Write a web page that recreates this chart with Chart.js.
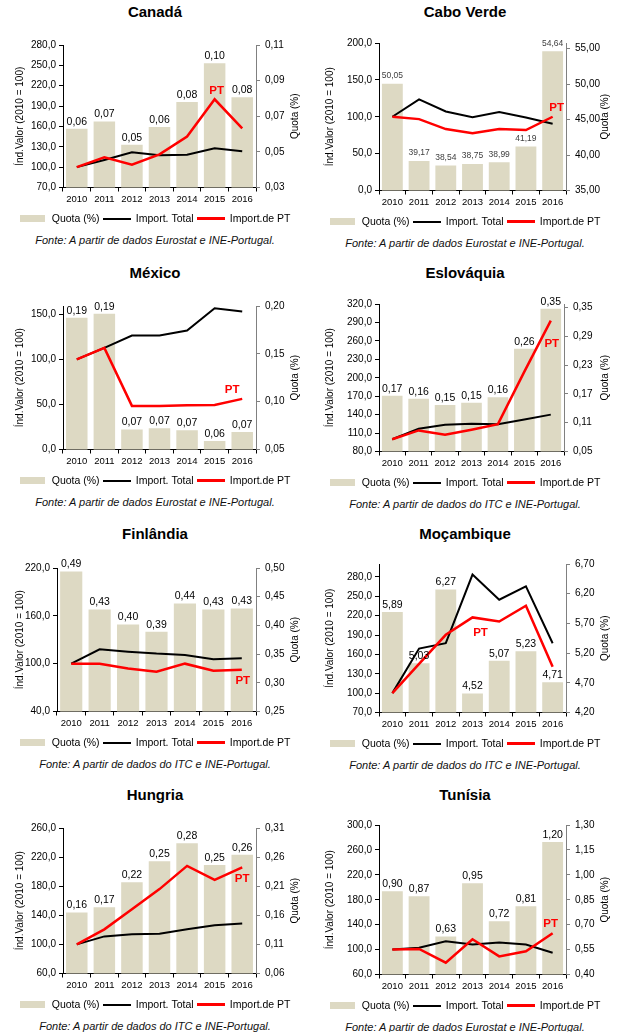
<!DOCTYPE html>
<html lang="pt">
<head>
<meta charset="utf-8">
<title>Quota e importações</title>
<script src="https://cdn.jsdelivr.net/npm/chart.js@4.4.1/dist/chart.umd.min.js"></script>
<style>
  html, body { margin: 0; padding: 0; background: #fff; overflow: hidden; }
  body { width: 621px; height: 1032px; position: relative; font-family: "Liberation Sans", Arial, sans-serif; }
  .painel { position: absolute; width: 310px; height: 261px; }
  .painel h2 { position: absolute; top: 3px; left: 0; width: 310px; margin: 0; text-align: center;
               font-size: 15px; line-height: 17px; font-weight: bold; color: #000; }
  .painel canvas { position: absolute; left: 0; top: 0; }
  .painel .fonte { position: absolute; left: 0; width: 310px; text-align: center; font-style: italic;
                   font-size: 11px; line-height: 12px; color: #111; }
</style>
</head>
<body>
<script>
var anos = ["2010", "2011", "2012", "2013", "2014", "2015", "2016"];
var paises = ["Canadá", "Cabo Verde", "México", "Eslováquia", "Finlândia", "Moçambique", "Hungria", "Tunísia"];
var fonteEurostat = "Fonte: A partir de dados Eurostat e INE-Portugal.";
var fonteITC = "Fonte: A partir de dados do ITC e INE-Portugal.";
var fontes = [fonteEurostat, fonteEurostat, fonteEurostat, fonteITC, fonteITC, fonteITC, fonteITC, fonteEurostat];

// Quota (%) = barras; Import. Total e Import.de PT = índice 2010 = 100
var quotaCanada = [0.063, 0.067, 0.054, 0.064, 0.078, 0.0997, 0.0806];
var totalCanada = [100, 110.5, 121.9, 117.4, 118.4, 127.8, 123.4];
var ptCanada = [100, 114.5, 103.6, 118.9, 145.1, 200, 157];

var quotaCaboVerde = [50.05, 39.17, 38.54, 38.75, 38.99, 41.19, 54.64];
var totalCaboVerde = [100, 123.5, 107.2, 99.5, 106.3, 99.1, 90.5];
var ptCaboVerde = [100, 96.8, 83.3, 77.8, 83.3, 81.9, 100];

var quotaMexico = [0.1877, 0.1919, 0.071, 0.0721, 0.0700, 0.0588, 0.0682];
var totalMexico = [100, 112.8, 126.5, 126.5, 132, 156.7, 153.3];
var ptMexico = [100, 112.8, 48.4, 48.4, 49.1, 49.5, 56.2];

var quotaEslovaquia = [0.166, 0.1597, 0.147, 0.1514, 0.163, 0.264, 0.347];
var totalEslovaquia = [100, 117, 123.5, 125, 124.5, 132, 140];
var ptEslovaquia = [100, 114.3, 107.2, 115.4, 124.5, 210, 293];

var quotaFinlandia = [0.494, 0.4277, 0.4015, 0.389, 0.438, 0.4277, 0.4295];
var totalFinlandia = [100, 118, 115, 112.6, 111, 105.5, 106.7];
var ptFinlandia = [100, 100, 94, 90, 100, 91.2, 92.5];

var quotaMocambique = [5.89, 5.03, 6.27, 4.52, 5.07, 5.23, 4.71];
var totalMocambique = [100, 169, 177.3, 283.6, 244.7, 265.5, 177.3];
var ptMocambique = [100, 145.2, 190.3, 217.3, 211, 235.4, 141];

var quotaHungria = [0.1648, 0.174, 0.2167, 0.253, 0.284, 0.2466, 0.264];
var totalHungria = [100, 111, 113.8, 114.7, 120.7, 126.3, 128.6];
var ptHungria = [100, 120.7, 148.4, 176, 207.9, 188.6, 206];

var quotaTunisia = [0.9016, 0.871, 0.629, 0.95, 0.72, 0.8106, 1.198];
var totalTunisia = [100, 103, 113.4, 108, 111.2, 108, 95];
var ptTunisia = [100, 101, 78.9, 116.6, 89.1, 97.2, 126.3];

var quotas = [quotaCanada, quotaCaboVerde, quotaMexico, quotaEslovaquia, quotaFinlandia, quotaMocambique, quotaHungria, quotaTunisia];
var totais = [totalCanada, totalCaboVerde, totalMexico, totalEslovaquia, totalFinlandia, totalMocambique, totalHungria, totalTunisia];
var importPT = [ptCanada, ptCaboVerde, ptMexico, ptEslovaquia, ptFinlandia, ptMocambique, ptHungria, ptTunisia];

// eixo esquerdo (índice) e eixo direito (quota)
var limEsq = [[70, 280], [0, 200], [0, 159.3], [80, 320], [40, 220], [70, 300], [60, 260], [60, 300]];
var marcasEsq = [
  [70, 100, 130, 160, 190, 220, 250, 280],
  [0, 50, 100, 150, 200],
  [0, 50, 100, 150],
  [80, 110, 140, 170, 200, 230, 260, 290, 320],
  [40, 100, 160, 220],
  [70, 100, 130, 160, 190, 220, 250, 280],
  [60, 100, 140, 180, 220, 260],
  [60, 100, 140, 180, 220, 260, 300]
];
var limDir = [[0.03, 0.11], [35, 55.8], [0.05, 0.20], [0.05, 0.357], [0.25, 0.50], [4.2, 6.7], [0.06, 0.31], [0.40, 1.30]];
var marcasDir = [
  [0.03, 0.05, 0.07, 0.09, 0.11],
  [35, 40, 45, 50, 55],
  [0.05, 0.10, 0.15, 0.20],
  [0.05, 0.11, 0.17, 0.23, 0.29, 0.35],
  [0.25, 0.30, 0.35, 0.40, 0.45, 0.50],
  [4.2, 4.7, 5.2, 5.7, 6.2, 6.7],
  [0.06, 0.11, 0.16, 0.21, 0.26, 0.31],
  [0.40, 0.55, 0.70, 0.85, 1.00, 1.15, 1.30]
];

// posição de cada gráfico na página e da área de desenho
var caixas = [
  { x: 0,   y: 0,   left: 63, right: 256, top: 45, bottom: 187, pt: [5, 2, -8] },
  { x: 310, y: 0,   left: 69, right: 256, top: 43, bottom: 190, pt: [6, 4, -9], pequeno: true },
  { x: 0,   y: 261, left: 63, right: 256, top: 45, bottom: 188, pt: [6, -10, -9] },
  { x: 310, y: 261, left: 69, right: 254, top: 43, bottom: 190, pt: [6, 1, 23] },
  { x: 0,   y: 522, left: 57, right: 256, top: 46, bottom: 189, pt: [6, 1, 11] },
  { x: 310, y: 522, left: 69, right: 256, top: 42, bottom: 190, pt: [3, 8, 15] },
  { x: 0,   y: 783, left: 63, right: 256, top: 45, bottom: 190, pt: [6, 0, 12] },
  { x: 310, y: 783, left: 69, right: 256, top: 42, bottom: 191, pt: [6, -2, -9] }
];

var corBarra = "#DDD9C3";
var fam = "'Liberation Sans', Arial, sans-serif";
Chart.defaults.font.family = fam;
Chart.defaults.color = "#000";

function amostra(w, h, cor) {
  var c = document.createElement("canvas");
  c.width = w; c.height = h;
  var g = c.getContext("2d");
  g.fillStyle = cor;
  g.fillRect(0, 0, w, h);
  return c;
}
var amostras = [amostra(25, 7, corBarra), amostra(28, 2, "#000"), amostra(28, 3, "#ff0000")];

function virgula(v, casas) {
  return v.toFixed(casas).replace(".", ",");
}

// rótulos das barras, "PT" e títulos dos eixos
var extras = {
  id: "extras",
  afterDatasetsDraw: function (chart, args, o) {
    var ctx = chart.ctx, a = chart.chartArea;
    ctx.save();
    ctx.textAlign = "center";
    ctx.textBaseline = "middle";

    ctx.font = o.pequeno ? "8.5px " + fam : "10.5px " + fam;
    ctx.fillStyle = o.pequeno ? "#404040" : "#000";
    var q = chart.data.datasets[0].data;
    chart.getDatasetMeta(0).data.forEach(function (bar, i) {
      ctx.fillText(virgula(q[i], 2), bar.x, bar.y - (o.pequeno ? 8 : 7));
    });

    var red = chart.data.datasets[2].data;
    ctx.font = "bold 11.5px " + fam;
    ctx.fillStyle = "#ff0000";
    ctx.fillText("PT", chart.scales.x.getPixelForValue(o.pt[0]) + o.pt[1],
      chart.scales.y.getPixelForValue(red[o.pt[0]]) + o.pt[2]);

    ctx.font = "10px " + fam;
    ctx.fillStyle = "#000";
    var cy = (a.top + a.bottom) / 2;
    ctx.save();
    ctx.translate(20, cy);
    ctx.rotate(-Math.PI / 2);
    ctx.fillText("Índ.Valor (2010 = 100)", 0, 0);
    ctx.restore();
    ctx.save();
    ctx.translate(295, cy);
    ctx.rotate(-Math.PI / 2);
    ctx.fillText("Quota (%)", 0, 0);
    ctx.restore();
    ctx.restore();
  }
};

caixas.forEach(function (cx, k) {
  var painel = document.createElement("div");
  painel.className = "painel";
  painel.style.left = cx.x + "px";
  painel.style.top = cx.y + "px";
  var h = cx.bottom + 47;

  var titulo = document.createElement("h2");
  titulo.textContent = paises[k];
  var canvas = document.createElement("canvas");
  canvas.width = 310;
  canvas.height = h;
  var nota = document.createElement("div");
  nota.className = "fonte";
  nota.style.top = h + "px";
  nota.textContent = fontes[k];
  painel.appendChild(titulo);
  painel.appendChild(canvas);
  painel.appendChild(nota);
  document.body.appendChild(painel);

  new Chart(canvas.getContext("2d"), {
    type: "bar",
    data: {
      labels: anos,
      datasets: [
        {
          label: "Quota (%)",
          data: quotas[k],
          backgroundColor: corBarra,
          yAxisID: "y1",
          barPercentage: 0.78,
          categoryPercentage: 1,
          order: 3
        },
        {
          type: "line",
          label: "Import. Total",
          data: totais[k],
          borderColor: "#000",
          backgroundColor: "#000",
          borderWidth: 2,
          pointRadius: 0,
          tension: 0,
          yAxisID: "y",
          order: 2
        },
        {
          type: "line",
          label: "Import.de PT",
          data: importPT[k],
          borderColor: "#ff0000",
          backgroundColor: "#ff0000",
          borderWidth: 2.5,
          pointRadius: 0,
          tension: 0,
          yAxisID: "y",
          order: 1
        }
      ]
    },
    options: {
      responsive: false,
      animation: false,
      layout: { padding: { top: cx.top, left: 0, right: 0, bottom: 0 } },
      scales: {
        x: {
          offset: true,
          grid: { offset: true, drawOnChartArea: false, drawTicks: true, tickLength: 4, color: "#000" },
          border: { color: "#000" },
          ticks: { font: { size: 9.5 }, color: "#000", padding: 2, maxRotation: 0, autoSkip: false },
          afterFit: function (s) { s.height = 22; }
        },
        y: {
          position: "left",
          min: limEsq[k][0],
          max: limEsq[k][1],
          grid: { drawOnChartArea: false, drawTicks: true, tickLength: 4, color: "#000" },
          border: { color: "#000" },
          ticks: { font: { size: 10 }, color: "#000", padding: 3, callback: function (v) { return virgula(v, 1); } },
          afterBuildTicks: function (s) { s.ticks = marcasEsq[k].map(function (v) { return { value: v }; }); },
          afterFit: function (s) { s.width = cx.left; }
        },
        y1: {
          position: "right",
          min: limDir[k][0],
          max: limDir[k][1],
          grid: { drawOnChartArea: false, drawTicks: true, tickLength: 4, color: "#808080" },
          border: { color: "#808080" },
          ticks: { font: { size: 10 }, color: "#000", padding: 5, callback: function (v) { return virgula(v, 2); } },
          afterBuildTicks: function (s) { s.ticks = marcasDir[k].map(function (v) { return { value: v }; }); },
          afterFit: function (s) { s.width = 310 - cx.right; }
        }
      },
      plugins: {
        title: { display: false },
        tooltip: { enabled: false },
        legend: {
          position: "bottom",
          labels: {
            usePointStyle: true,
            pointStyleWidth: 27,
            padding: 4,
            color: "#000",
            font: { size: 10.5 },
            sort: function (a, b) { return a.datasetIndex - b.datasetIndex; },
            generateLabels: function (chart) {
              return Chart.defaults.plugins.legend.labels.generateLabels(chart).map(function (it) {
                it.pointStyle = amostras[it.datasetIndex];
                return it;
              });
            }
          }
        },
        extras: { pt: cx.pt, pequeno: !!cx.pequeno }
      }
    },
    plugins: [extras]
  });
});
</script>
</body>
</html>
